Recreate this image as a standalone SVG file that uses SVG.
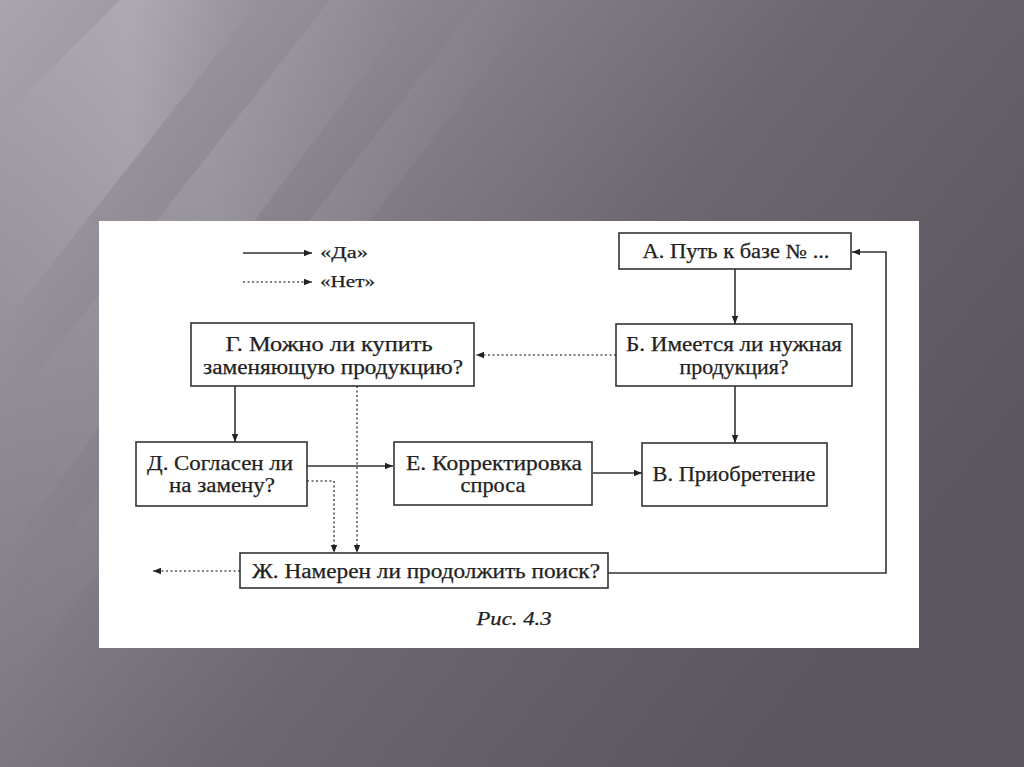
<svg xmlns="http://www.w3.org/2000/svg" width="1024" height="767" viewBox="0 0 1024 767">
<defs>
<linearGradient id="bg" x1="0" y1="0" x2="1" y2="0.6">
<stop offset="0" stop-color="#a9a4ad"/>
<stop offset="0.3" stop-color="#8a858e"/>
<stop offset="0.6" stop-color="#6c6770"/>
<stop offset="1" stop-color="#5b565d"/>
</linearGradient>
<linearGradient id="streak" x1="0" y1="0" x2="1" y2="0">
<stop offset="0" stop-color="#ffffff" stop-opacity="0"/>
<stop offset="0.5" stop-color="#ffffff" stop-opacity="0.16"/>
<stop offset="1" stop-color="#ffffff" stop-opacity="0"/>
</linearGradient>
<marker id="ah" viewBox="0 0 10 10" refX="10" refY="5" markerWidth="10" markerHeight="8" markerUnits="userSpaceOnUse" orient="auto">
<path d="M0,1 L10,5 L0,9 z" fill="#222"/>
</marker>
<style>
.box{fill:#fff;stroke:#333;stroke-width:1.6}
text{font-family:"Liberation Serif","Times New Roman",serif;fill:#222;stroke:#222}
.t{font-size:20px;stroke-width:0.25;text-anchor:middle}
.lg{font-size:16px;stroke-width:0.25}
.cap{font-size:18px;font-style:italic;stroke-width:0.25;text-anchor:middle}
.solid{fill:none;stroke:#333;stroke-width:1.6}
.dot{fill:none;stroke:#555;stroke-width:1.6;stroke-dasharray:2 2.5}
</style>
</defs>
<rect width="1024" height="767" fill="url(#bg)"/>
<polygon points="0,120 120,0 260,0 0,330" fill="url(#streak)"/>
<polygon points="0,420 330,0 420,0 0,560" fill="url(#streak)" opacity="0.7"/>
<polygon points="0,620 480,0 540,0 0,700" fill="url(#streak)" opacity="0.5"/>
<rect x="99" y="221" width="820" height="427" fill="#fff"/>

<g id="legend">
<line class="solid" x1="243" y1="253" x2="312" y2="253" marker-end="url(#ah)"/>
<text class="lg" x="320" y="258" textLength="48" lengthAdjust="spacingAndGlyphs">«Да»</text>
<line class="dot" x1="243" y1="282" x2="312" y2="282" marker-end="url(#ah)"/>
<text class="lg" x="320" y="287" textLength="55" lengthAdjust="spacingAndGlyphs">«Нет»</text>
</g>

<g id="connectors">
<line class="solid" x1="735" y1="269" x2="735" y2="324" marker-end="url(#ah)"/>
<line class="solid" x1="735" y1="386" x2="735" y2="443" marker-end="url(#ah)"/>
<line class="dot" x1="616" y1="355" x2="476" y2="355" marker-end="url(#ah)"/>
<line class="solid" x1="235" y1="386" x2="235" y2="442" marker-end="url(#ah)"/>
<line class="dot" x1="357" y1="386" x2="357" y2="553" marker-end="url(#ah)"/>
<line class="solid" x1="307" y1="466" x2="393" y2="466" marker-end="url(#ah)"/>
<polyline class="dot" points="307,481 334,481 334,553" marker-end="url(#ah)"/>
<line class="solid" x1="593" y1="473" x2="642" y2="473" marker-end="url(#ah)"/>
<line class="dot" x1="240" y1="571" x2="153" y2="571" marker-end="url(#ah)"/>
<polyline class="solid" points="608,573 886,573 886,252 852,252" marker-end="url(#ah)"/>
</g>

<g id="nodeA">
<rect class="box" x="619" y="233" width="232" height="36"/>
<text class="t" x="736" y="258" textLength="187" lengthAdjust="spacingAndGlyphs">А. Путь к базе № ...</text>
</g>
<g id="nodeB">
<rect class="box" x="616" y="324" width="236" height="62"/>
<text class="t" x="734" y="351" textLength="216" lengthAdjust="spacingAndGlyphs">Б. Имеется ли нужная</text>
<text class="t" x="734" y="374" textLength="109" lengthAdjust="spacingAndGlyphs">продукция?</text>
</g>
<g id="nodeG">
<rect class="box" x="191" y="323" width="283" height="63"/>
<text class="t" x="329" y="351" textLength="207" lengthAdjust="spacingAndGlyphs">Г. Можно ли купить</text>
<text class="t" x="333" y="374" textLength="260" lengthAdjust="spacingAndGlyphs">заменяющую продукцию?</text>
</g>
<g id="nodeD">
<rect class="box" x="136" y="442" width="171" height="64"/>
<text class="t" x="220" y="470" textLength="146" lengthAdjust="spacingAndGlyphs">Д. Согласен ли</text>
<text class="t" x="222" y="492" textLength="106" lengthAdjust="spacingAndGlyphs">на замену?</text>
</g>
<g id="nodeE">
<rect class="box" x="394" y="442" width="198" height="63"/>
<text class="t" x="494" y="470" textLength="176" lengthAdjust="spacingAndGlyphs">Е. Корректировка</text>
<text class="t" x="493" y="492" textLength="65" lengthAdjust="spacingAndGlyphs">спроса</text>
</g>
<g id="nodeV">
<rect class="box" x="642" y="443" width="185" height="63"/>
<text class="t" x="734" y="481" textLength="163" lengthAdjust="spacingAndGlyphs">В. Приобретение</text>
</g>
<g id="nodeZh">
<rect class="box" x="240" y="553" width="368" height="35"/>
<text class="t" x="426" y="578" textLength="348" lengthAdjust="spacingAndGlyphs">Ж. Намерен ли продолжить поиск?</text>
</g>
<text class="cap" x="514" y="625" textLength="75" lengthAdjust="spacingAndGlyphs">Рис. 4.3</text>
</svg>
